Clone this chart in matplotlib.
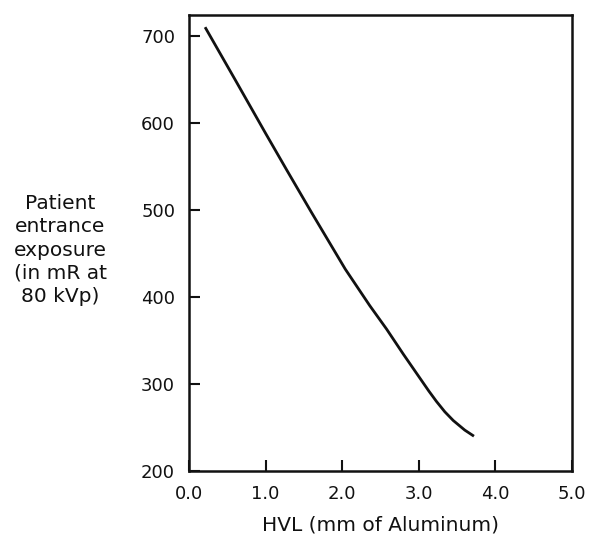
"""
Patient entrance exposure vs HVL at 80 kVp.
Values read off the original figure.
"""

import matplotlib.pyplot as plt

# Data -------------------------------------------------------------------------

hvl = [0.21, 0.6, 1.0, 1.275, 1.6, 2.04, 2.36, 2.58, 2.80, 3.02, 3.13, 3.23, 3.34, 3.45, 3.6, 3.72]
exposure = [710, 650, 588, 546, 497, 432, 390, 363, 334, 306, 292, 280, 268, 258, 247, 240]

xticks = [0.0, 1.0, 2.0, 3.0, 4.0, 5.0]
xticklabels = ['0.0', '1.0', '2.0', '3.0', '4.0', '5.0']
yticks = [200, 300, 400, 500, 600, 700]

xlab = 'HVL (mm of Aluminum)'
ylab = 'Patient\nentrance\nexposure\n(in mR at\n80 kVp)'

# Plot -------------------------------------------------------------------------

plt.rcParams['font.family'] = ['DejaVu Sans']

fig = plt.figure(figsize=(5.89, 5.36), dpi=100)
ax = fig.add_axes([189/589, 1 - 471/536, (572-189)/589, (471-15)/536])

ax.plot(hvl, exposure, color='#111111', lw=2.0, solid_capstyle='butt',
	solid_joinstyle='round')

ax.set_xlim(0, 5)
ax.set_ylim(200, 724)
ax.set_xticks(xticks)
ax.set_xticklabels(xticklabels)
ax.set_yticks(yticks)

ax.tick_params(direction='in', length=8, width=1.5, labelsize=13, pad=10, colors='#111111')
for s in ax.spines.values():
	s.set_linewidth(1.8)
	s.set_color('#111111')

fig.text(380/589, 1 - 525/536, xlab, ha='center', va='center',
	fontsize=14.5, color='#111111')
fig.text(60/589, 1 - 250/536, ylab, ha='center', va='center',
	multialignment='center', fontsize=14.5, linespacing=1.27, color='#111111')

fig.savefig('out.png', dpi=100)
